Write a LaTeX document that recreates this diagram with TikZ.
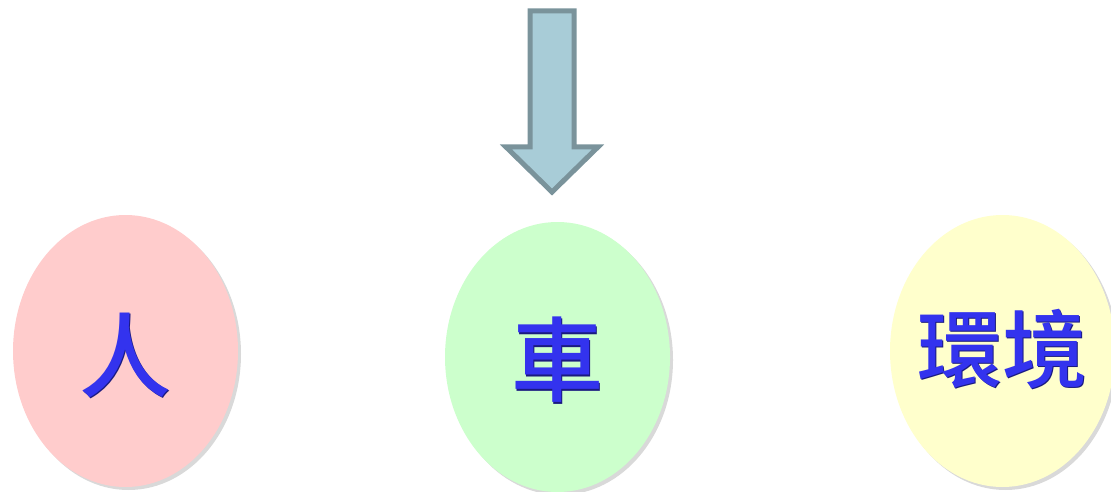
\documentclass[tikz,border=0pt]{standalone}
\usepackage{fontspec}
\newfontfamily\cjk{Noto Sans CJK TC}[BoldFont={Noto Sans CJK TC Medium}]
\usetikzlibrary{shadows}
\definecolor{pinkfill}{HTML}{FFCCCC}
\definecolor{greenfill}{HTML}{CCFFCC}
\definecolor{yellowfill}{HTML}{FFFFCC}
\definecolor{arrowfill}{HTML}{A8CCD7}
\definecolor{arrowline}{HTML}{7A939B}
\definecolor{txtblue}{HTML}{3333EE}
\definecolor{txtdark}{HTML}{1A1A80}
\tikzset{
  blob/.style={ellipse, minimum width=225pt, minimum height=272pt, inner sep=0pt,
    drop shadow={opacity=0.3, shadow xshift=3pt, shadow yshift=-3pt}},
  lbl/.style={font=\cjk\bfseries\fontsize{92}{92}\selectfont, text=txtblue, inner sep=0pt},
  lblsh/.style={font=\cjk\bfseries\fontsize{92}{92}\selectfont, text=txtdark, inner sep=0pt},
}
\usetikzlibrary{shapes.geometric}
\begin{document}
\begin{tikzpicture}[x=1pt,y=-1pt]
\useasboundingbox (0,0) rectangle (1111,492);
\node[blob, fill=pinkfill] (ren) at (125.5,351) {};
\node[blob, fill=greenfill, minimum height=270pt] (che) at (557.5,357) {};
\node[blob, fill=yellowfill] (env) at (1002.5,351) {};
\node[lblsh] at (126.5,356.5) {人};
\node[lbl] (tren) at (125,355) {人};
\node[lblsh] at (558.5,361.5) {車};
\node[lbl] (tche) at (557,360) {車};
\node[lblsh, font=\cjk\bfseries\fontsize{85}{85}\selectfont] at (1003.5,350.5) {環境};
\node[lbl, font=\cjk\bfseries\fontsize{85}{85}\selectfont] (tenv) at (1002,349) {環境};
\draw[line width=5pt, draw=arrowline, fill=arrowfill, line join=miter]
  (530,11) -- (574,11) -- (574,147) -- (598,147) -- (552,192) -- (506,147) -- (530,147) -- cycle;
\end{tikzpicture}
\end{document}
